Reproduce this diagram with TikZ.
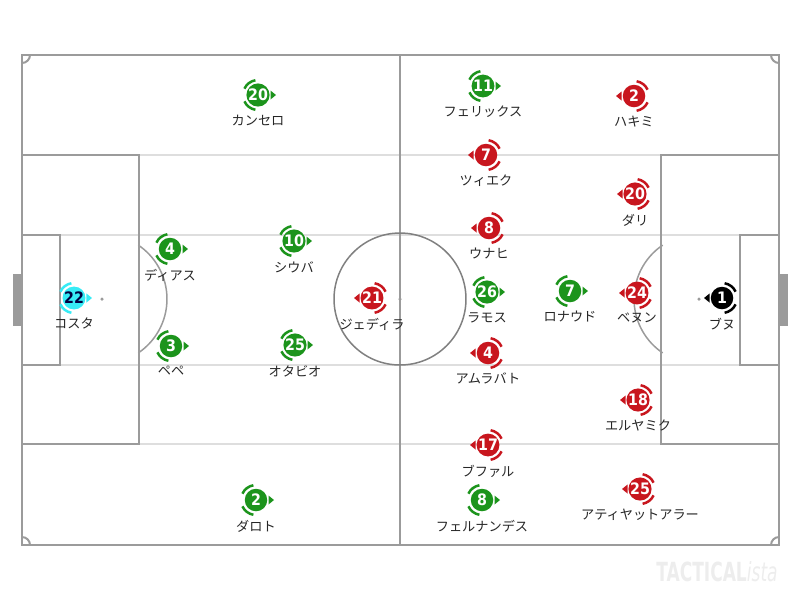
\documentclass[tikz,border=0pt]{standalone}
\usepackage{fontspec}
\setmainfont{Noto Sans CJK JP}
\newfontfamily\numfont{DejaVu Sans Condensed}
\usetikzlibrary{positioning}

\definecolor{tgreen}{RGB}{28,148,28}
\definecolor{tred}{RGB}{200,22,30}
\definecolor{tcyan}{RGB}{55,235,245}
\definecolor{lineg}{RGB}{155,155,155}
\definecolor{faintg}{RGB}{222,222,222}

\begin{document}
\begin{tikzpicture}[x=0.02cm,y=-0.02cm,
pitch/.style={draw=lineg,line width=0.04cm},
faintline/.style={draw=faintg,line width=0.025cm},
plr/.style={circle,inner sep=0,minimum size=0.45cm,text=white,
    font=\numfont\bfseries\fontsize{9}{9}\selectfont},
grn/.style={plr,fill=tgreen},
rd/.style={plr,fill=tred},
every label/.style={font=\fontsize{7.5}{9}\selectfont,inner sep=0,text=black!85},
label distance=0.16cm]

\useasboundingbox (0,0) rectangle (800,600);

% pitch
\draw[faintline] (22,155) -- (779,155);
\draw[faintline] (22,235) -- (779,235);
\draw[faintline] (22,365) -- (779,365);
\draw[faintline] (22,444) -- (779,444);
\draw[pitch] (22,55) rectangle (779,545);
\draw[pitch] (400,55) -- (400,545);
\draw[pitch] (22,155) rectangle (139,444);
\draw[pitch] (22,235) rectangle (60,365);
\draw[pitch] (661,155) rectangle (779,444);
\draw[pitch] (740,235) rectangle (779,365);
\fill[lineg] (13,274) rectangle (22,326);
\fill[lineg] (779,274) rectangle (788,326);
\draw[draw=black!50,line width=0.03cm] (400,299) circle[radius=1.32cm];
\fill[lineg] (400,299) circle[radius=0.035cm];
\fill[lineg] (102,299) circle[radius=0.035cm];
\fill[lineg] (699,299) circle[radius=0.035cm];
\draw[draw=lineg,line width=0.03cm] (102,299) ++(-56:1.3cm) arc[start angle=-56,end angle=56,radius=1.3cm];
\draw[draw=lineg,line width=0.03cm] (699,299) ++(124:1.3cm) arc[start angle=124,end angle=236,radius=1.3cm];
\draw[pitch] (22,55) ++(0:0.16cm) arc[start angle=0,end angle=-90,radius=0.16cm];
\draw[pitch] (779,55) ++(180:0.16cm) arc[start angle=180,end angle=270,radius=0.16cm];
\draw[pitch] (22,545) ++(0:0.16cm) arc[start angle=0,end angle=90,radius=0.16cm];
\draw[pitch] (779,545) ++(180:0.16cm) arc[start angle=180,end angle=90,radius=0.16cm];

% left side
\node (gk22) [plr,fill=tcyan,text=black!75!blue,label=below:コスタ] at (74,298) {22};
\node (g20) [grn,label=below:カンセロ] at (258,95) {20};
\node (g4) [grn,label=below:ディアス] at (170,249) {4};
\node (g10) [grn,label=below:シウバ] at (294,241) {10};
\node (g3) [grn,label=below:ペペ] at (171,346) {3};
\node (g25) [grn,label=below:オタビオ] at (295,345) {25};
\node (g2) [grn,label=below:ダロト] at (256,500) {2};
\node (g11) [grn,label=below:フェリックス] at (483,86) {11};
\node (g26) [grn,label=below:ラモス] at (487,292) {26};
\node (g7) [grn,label=below:ロナウド] at (570,291) {7};
\node (g8) [grn,label=below:フェルナンデス] at (482,500) {8};

% right side
\node (gk1) [plr,fill=black,label=below:ブヌ] at (722,298) {1};
\node (r2) [rd,label=below:ハキミ] at (634,96) {2};
\node (r7) [rd,label=below:ツィエク] at (486,155) {7};
\node (r20) [rd,label=below:ダリ] at (635,194) {20};
\node (r8) [rd,label=below:ウナヒ] at (489,228) {8};
\node (r21) [rd,label=below:ジェディラ] at (372,298) {21};
\node (r24) [rd,label=below:ベヌン] at (637,293) {24};
\node (r4) [rd,label=below:アムラバト] at (488,353) {4};
\node (r18) [rd,label=below:エルヤミク] at (638,400) {18};
\node (r17) [rd,label=below:ブファル] at (488,445) {17};
\node (r25) [rd,label=below:アティヤットアラー] at (640,489) {25};

% facing marks
\foreach \n/\c in {gk22/tcyan,g20/tgreen,g4/tgreen,g10/tgreen,g3/tgreen,g25/tgreen,
    g2/tgreen,g11/tgreen,g26/tgreen,g7/tgreen,g8/tgreen} {
  \fill[\c] ([shift={(0.25cm,0.09cm)}]\n.center) -- ([shift={(0.36cm,0cm)}]\n.center)
    -- ([shift={(0.25cm,-0.09cm)}]\n.center) -- cycle;
  \draw[\c,line width=0.05cm] ([shift={(100:0.3cm)}]\n.center) arc[start angle=100,end angle=155,radius=0.3cm];
  \draw[\c,line width=0.05cm] ([shift={(205:0.3cm)}]\n.center) arc[start angle=205,end angle=260,radius=0.3cm];
}
\foreach \n/\c in {gk1/black,r2/tred,r7/tred,r20/tred,r8/tred,r21/tred,r24/tred,
    r4/tred,r18/tred,r17/tred,r25/tred} {
  \fill[\c] ([shift={(-0.25cm,0.09cm)}]\n.center) -- ([shift={(-0.36cm,0cm)}]\n.center)
    -- ([shift={(-0.25cm,-0.09cm)}]\n.center) -- cycle;
  \draw[\c,line width=0.05cm] ([shift={(25:0.3cm)}]\n.center) arc[start angle=25,end angle=80,radius=0.3cm];
  \draw[\c,line width=0.05cm] ([shift={(280:0.3cm)}]\n.center) arc[start angle=280,end angle=335,radius=0.3cm];
}

\node (mark) [text=black!7,inner sep=0] at (717,572)
  {\scalebox{0.72}[1]{\numfont\fontsize{15}{15}\selectfont\bfseries TACTICAL\mdseries\itshape ista}};
\end{tikzpicture}
\end{document}
